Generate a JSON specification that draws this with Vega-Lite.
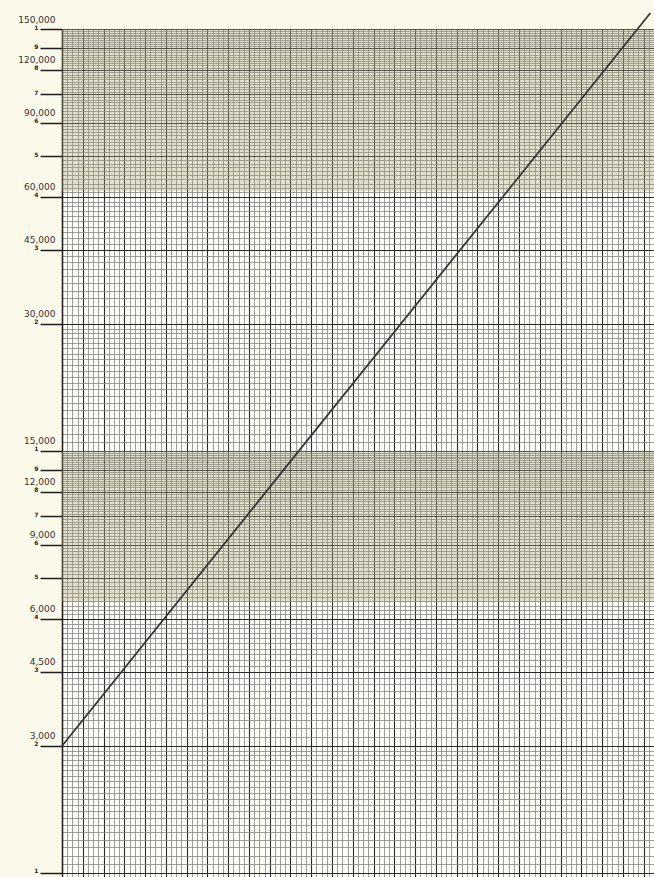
{
  "$schema": "https://vega.github.io/schema/vega-lite/v6.json",
  "autosize": {"type": "none"},
  "padding": {"left": 62, "top": 29, "right": 0, "bottom": 0},
  "width": 592,
  "height": 848,
  "background": "#fbf9ea",
  "config": {"view": {"stroke": null, "fill": "#fdfdf7"}},
  "resolve": {"axis": {"y": "independent"}},
  "layer": [
    {
      "data": {"values": [{"lo": 6600, "hi": 15000}, {"lo": 62000, "hi": 150000}]},
      "mark": {"type": "rect", "color": "#a8a57a", "opacity": 0.35},
      "encoding": {
        "y": {
          "field": "lo", "type": "quantitative",
          "scale": {"type": "log", "domain": [1467.5, 150000], "nice": false},
          "axis": {
            "orient": "left",
            "title": null,
            "values": [1500,1575,1650,1725,1800,1875,1950,2025,2100,2175,2250,2325,2400,2475,2550,2625,2700,2775,2850,2925,3000,3150,3300,3450,3600,3750,3900,4050,4200,4350,4500,4650,4800,4950,5100,5250,5400,5550,5700,5850,6000,6150,6300,6450,6600,6750,6900,7050,7200,7350,7500,7650,7800,7950,8100,8250,8400,8550,8700,8850,9000,9150,9300,9450,9600,9750,9900,10050,10200,10350,10500,10650,10800,10950,11100,11250,11400,11550,11700,11850,12000,12150,12300,12450,12600,12750,12900,13050,13200,13350,13500,13650,13800,13950,14100,14250,14400,14550,14700,14850,15000,15750,16500,17250,18000,18750,19500,20250,21000,21750,22500,23250,24000,24750,25500,26250,27000,27750,28500,29250,30000,31500,33000,34500,36000,37500,39000,40500,42000,43500,45000,46500,48000,49500,51000,52500,54000,55500,57000,58500,60000,61500,63000,64500,66000,67500,69000,70500,72000,73500,75000,76500,78000,79500,81000,82500,84000,85500,87000,88500,90000,91500,93000,94500,96000,97500,99000,100500,102000,103500,105000,106500,108000,109500,111000,112500,114000,115500,117000,118500,120000,121500,123000,124500,126000,127500,129000,130500,132000,133500,135000,136500,138000,139500,141000,142500,144000,145500,147000,148500,150000],
            "grid": true,
            "gridColor": {"condition": {"test": "datum.value % (datum.value < 14999 ? 1500 : 15000) === 0", "value": "#2a2a2a"}, "value": "#858585"},
            "gridWidth": {"condition": {"test": "datum.value % (datum.value < 14999 ? 1500 : 15000) === 0", "value": 1.1}, "value": 0.8},
            "gridOpacity": 1,
            "ticks": true,
            "tickSize": 22,
            "tickColor": "#1e1e1e",
            "tickWidth": 1.5,
            "tickOpacity": {"condition": {"test": "datum.value % (datum.value < 14999 ? 1500 : 15000) === 0", "value": 1}, "value": 0},
            "domain": true,
            "domainColor": "#1e1e1e",
            "domainWidth": 1.5,
            "labelOverlap": false,
            "labelFlush": false,
            "labelExpr": "(datum.value % (datum.value < 14999 ? 1500 : 15000) === 0) ? ('' + ((((datum.value / (datum.value < 14999 ? 1500 : 15000)) - 1) % 9) + 1)) : ''",
            "labelFont": "DejaVu Sans",
            "labelFontSize": 6,
            "labelFontWeight": "bold",
            "labelColor": "#222222",
            "labelPadding": 2,
            "labelBaseline": "bottom",
            "labelOffset": 1
          }
        },
        "y2": {"field": "hi"}
      }
    },
    {
      "data": {"values": [{"t": 0, "v": 3000}, {"t": 113.3, "v": 163700}]},
      "mark": {"type": "line", "color": "#363636", "strokeWidth": 1.8, "clip": false},
      "encoding": {
        "x": {
          "field": "t", "type": "quantitative",
          "scale": {"domain": [0, 114], "nice": false},
          "axis": {
            "orient": "bottom",
            "title": null,
            "tickCount": 114,
            "labels": false,
            "ticks": false,
            "domain": false,
            "grid": true,
            "gridColor": {"condition": {"test": "datum.value % 4 === 0", "value": "#2a2a2a"}, "value": "#858585"},
            "gridWidth": {"condition": {"test": "datum.value % 4 === 0", "value": 1.1}, "value": 0.8},
            "gridOpacity": 1
          }
        },
        "y": {
          "field": "v", "type": "quantitative",
          "scale": {"type": "log", "domain": [1467.5, 150000], "nice": false},
          "axis": {
            "orient": "left",
            "title": null,
            "values": [3000, 4500, 6000, 9000, 12000, 15000, 30000, 45000, 60000, 90000, 120000, 150000],
            "grid": false,
            "ticks": false,
            "domain": false,
            "labelOverlap": false,
            "labelFlush": false,
            "labelExpr": "format(datum.value, ',')",
            "labelFont": "DejaVu Sans",
            "labelFontSize": 9,
            "labelColor": "#333333",
            "labelPadding": 7,
            "labelBaseline": "bottom",
            "labelOffset": -5
          }
        }
      }
    }
  ]
}
